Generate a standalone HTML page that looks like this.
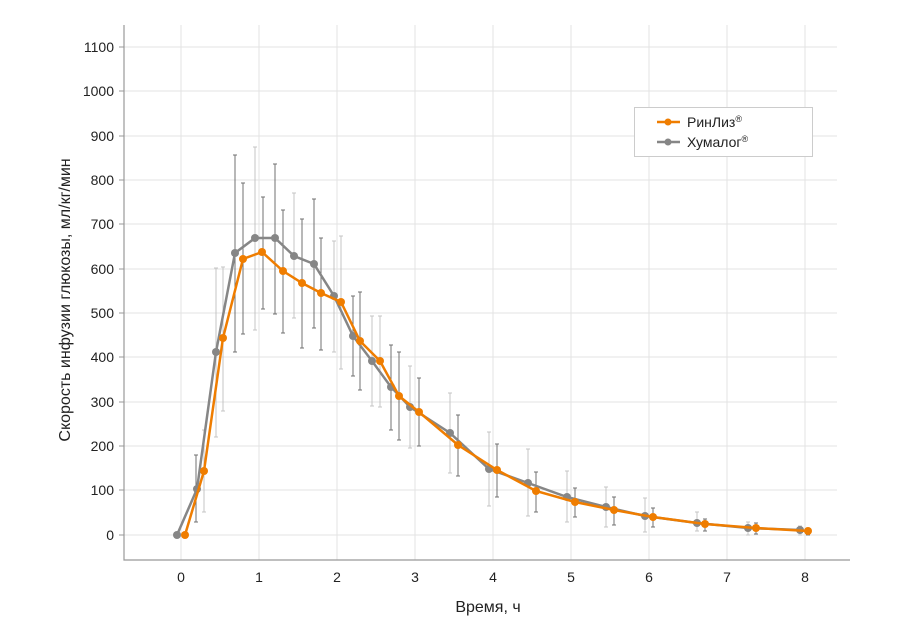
<!DOCTYPE html>
<html><head><meta charset="utf-8"><style>body{margin:0;background:#fff}svg{display:block;font-family:"Liberation Sans",sans-serif}</style></head><body>
<svg width="900" height="624" xmlns="http://www.w3.org/2000/svg">
<g stroke="#e3e3e3" stroke-width="1">
<line x1="124" x2="837" y1="47" y2="47"/><line x1="124" x2="837" y1="91" y2="91"/><line x1="124" x2="837" y1="136" y2="136"/><line x1="124" x2="837" y1="180" y2="180"/><line x1="124" x2="837" y1="224" y2="224"/><line x1="124" x2="837" y1="269" y2="269"/><line x1="124" x2="837" y1="313" y2="313"/><line x1="124" x2="837" y1="357" y2="357"/><line x1="124" x2="837" y1="402" y2="402"/><line x1="124" x2="837" y1="446" y2="446"/><line x1="124" x2="837" y1="490" y2="490"/><line x1="124" x2="837" y1="535" y2="535"/>
<line y1="25" y2="560" x1="181" x2="181"/><line y1="25" y2="560" x1="259" x2="259"/><line y1="25" y2="560" x1="337" x2="337"/><line y1="25" y2="560" x1="415" x2="415"/><line y1="25" y2="560" x1="493" x2="493"/><line y1="25" y2="560" x1="571" x2="571"/><line y1="25" y2="560" x1="649" x2="649"/><line y1="25" y2="560" x1="727" x2="727"/><line y1="25" y2="560" x1="805" x2="805"/>
</g>
<g stroke="#999" stroke-width="1.2" fill="none"><polyline points="124,25 124,560 850,560"/></g>
<g stroke="#999"><line x1="119" x2="124" y1="47" y2="47"/><line x1="119" x2="124" y1="91" y2="91"/><line x1="119" x2="124" y1="136" y2="136"/><line x1="119" x2="124" y1="180" y2="180"/><line x1="119" x2="124" y1="224" y2="224"/><line x1="119" x2="124" y1="269" y2="269"/><line x1="119" x2="124" y1="313" y2="313"/><line x1="119" x2="124" y1="357" y2="357"/><line x1="119" x2="124" y1="402" y2="402"/><line x1="119" x2="124" y1="446" y2="446"/><line x1="119" x2="124" y1="490" y2="490"/><line x1="119" x2="124" y1="535" y2="535"/></g>
<g font-size="14" fill="#222" text-anchor="end">
<text x="114" y="52">1100</text><text x="114" y="96">1000</text><text x="114" y="141">900</text><text x="114" y="185">800</text><text x="114" y="229">700</text><text x="114" y="274">600</text><text x="114" y="318">500</text><text x="114" y="362">400</text><text x="114" y="407">300</text><text x="114" y="451">200</text><text x="114" y="495">100</text><text x="114" y="540">0</text></g>
<g font-size="14" fill="#222" text-anchor="middle">
<text x="181" y="582">0</text><text x="259" y="582">1</text><text x="337" y="582">2</text><text x="415" y="582">3</text><text x="493" y="582">4</text><text x="571" y="582">5</text><text x="649" y="582">6</text><text x="727" y="582">7</text><text x="805" y="582">8</text>
<text x="488" y="612" font-size="16">Время, ч</text>
<text transform="translate(70,300) rotate(-90)" font-size="16">Скорость инфузии глюкозы, мл/кг/мин</text></g>
<g stroke-width="1">
<path stroke="#c4c4c4" d="M204 430V512M216 268V437M223 267V411M255 147V330M294 193V318M334 241V352M341 236V369M372 316V406M380 316V407M410 366V448M450 393V473M489 432V506M528 449V516M567 471V522M606 487V527M645 498V532M697 512V531M748 522V535M800 526V535
M202 430h4M202 512h4M214 268h4M214 437h4M221 267h4M221 411h4M253 147h4M253 330h4M292 193h4M292 318h4M332 241h4M332 352h4M339 236h4M339 369h4M370 316h4M370 406h4M378 316h4M378 407h4M408 366h4M408 448h4M448 393h4M448 473h4M487 432h4M487 506h4M526 449h4M526 516h4M565 471h4M565 522h4M604 487h4M604 527h4M643 498h4M643 532h4M695 512h4M695 531h4M746 522h4M746 535h4M798 526h4M798 535h4"/>
<path stroke="#707070" d="M196 455V522M235 155V352M243 183V334M263 197V309M275 164V314M283 210V333M302 219V348M314 199V328M321 238V350M353 296V376M360 292V390M391 345V430M399 352V440M419 378V446M458 415V476M497 444V497M536 472V512M575 488V517M614 497V525M653 508V527M705 519V531M756 523V534M808 528V535
M194 455h4M194 522h4M233 155h4M233 352h4M241 183h4M241 334h4M261 197h4M261 309h4M273 164h4M273 314h4M281 210h4M281 333h4M300 219h4M300 348h4M312 199h4M312 328h4M319 238h4M319 350h4M351 296h4M351 376h4M358 292h4M358 390h4M389 345h4M389 430h4M397 352h4M397 440h4M417 378h4M417 446h4M456 415h4M456 476h4M495 444h4M495 497h4M534 472h4M534 512h4M573 488h4M573 517h4M612 497h4M612 525h4M651 508h4M651 527h4M703 519h4M703 531h4M754 523h4M754 534h4M806 528h4M806 535h4"/>
</g>
<polyline fill="none" stroke="#868686" stroke-width="2.5" points="177,535 197,489 216,352 235,253 255,238 275,238 294,256 314,264 334,296 353,336 372,361 391,387 410,407 450,433 489,469 528,483 567,497 606,507 645,516 697,523 748,528 800,530"/>
<g fill="#868686"><circle cx="177" cy="535" r="4"/><circle cx="197" cy="489" r="4"/><circle cx="216" cy="352" r="4"/><circle cx="235" cy="253" r="4"/><circle cx="255" cy="238" r="4"/><circle cx="275" cy="238" r="4"/><circle cx="294" cy="256" r="4"/><circle cx="314" cy="264" r="4"/><circle cx="334" cy="296" r="4"/><circle cx="353" cy="336" r="4"/><circle cx="372" cy="361" r="4"/><circle cx="391" cy="387" r="4"/><circle cx="410" cy="407" r="4"/><circle cx="450" cy="433" r="4"/><circle cx="489" cy="469" r="4"/><circle cx="528" cy="483" r="4"/><circle cx="567" cy="497" r="4"/><circle cx="606" cy="507" r="4"/><circle cx="645" cy="516" r="4"/><circle cx="697" cy="523" r="4"/><circle cx="748" cy="528" r="4"/><circle cx="800" cy="530" r="4"/></g>
<polyline fill="none" stroke="#ef7d00" stroke-width="2.5" points="185,535 204,471 223,338 243,259 262,252 283,271 302,283 321,293 341,302 360,341 380,361 399,396 419,412 458,445 497,470 536,491 575,502 614,510 653,517 705,524 756,528 808,531"/>
<g fill="#ef7d00"><circle cx="185" cy="535" r="4"/><circle cx="204" cy="471" r="4"/><circle cx="223" cy="338" r="4"/><circle cx="243" cy="259" r="4"/><circle cx="262" cy="252" r="4"/><circle cx="283" cy="271" r="4"/><circle cx="302" cy="283" r="4"/><circle cx="321" cy="293" r="4"/><circle cx="341" cy="302" r="4"/><circle cx="360" cy="341" r="4"/><circle cx="380" cy="361" r="4"/><circle cx="399" cy="396" r="4"/><circle cx="419" cy="412" r="4"/><circle cx="458" cy="445" r="4"/><circle cx="497" cy="470" r="4"/><circle cx="536" cy="491" r="4"/><circle cx="575" cy="502" r="4"/><circle cx="614" cy="510" r="4"/><circle cx="653" cy="517" r="4"/><circle cx="705" cy="524" r="4"/><circle cx="756" cy="528" r="4"/><circle cx="808" cy="531" r="4"/></g>
<rect x="634.5" y="107.5" width="178" height="49" fill="#fff" stroke="#ccc"/>
<line x1="657" x2="680" y1="122" y2="122" stroke="#ef7d00" stroke-width="2.5"/><circle cx="668" cy="122" r="3.5" fill="#ef7d00"/>
<line x1="657" x2="680" y1="142" y2="142" stroke="#868686" stroke-width="2.5"/><circle cx="668" cy="142" r="3.5" fill="#868686"/>
<text x="687" y="127" font-size="14" fill="#222">РинЛиз<tspan font-size="9" dy="-5">®</tspan></text>
<text x="687" y="147" font-size="14" fill="#222">Хумалог<tspan font-size="9" dy="-5">®</tspan></text>
</svg>
</body></html>
